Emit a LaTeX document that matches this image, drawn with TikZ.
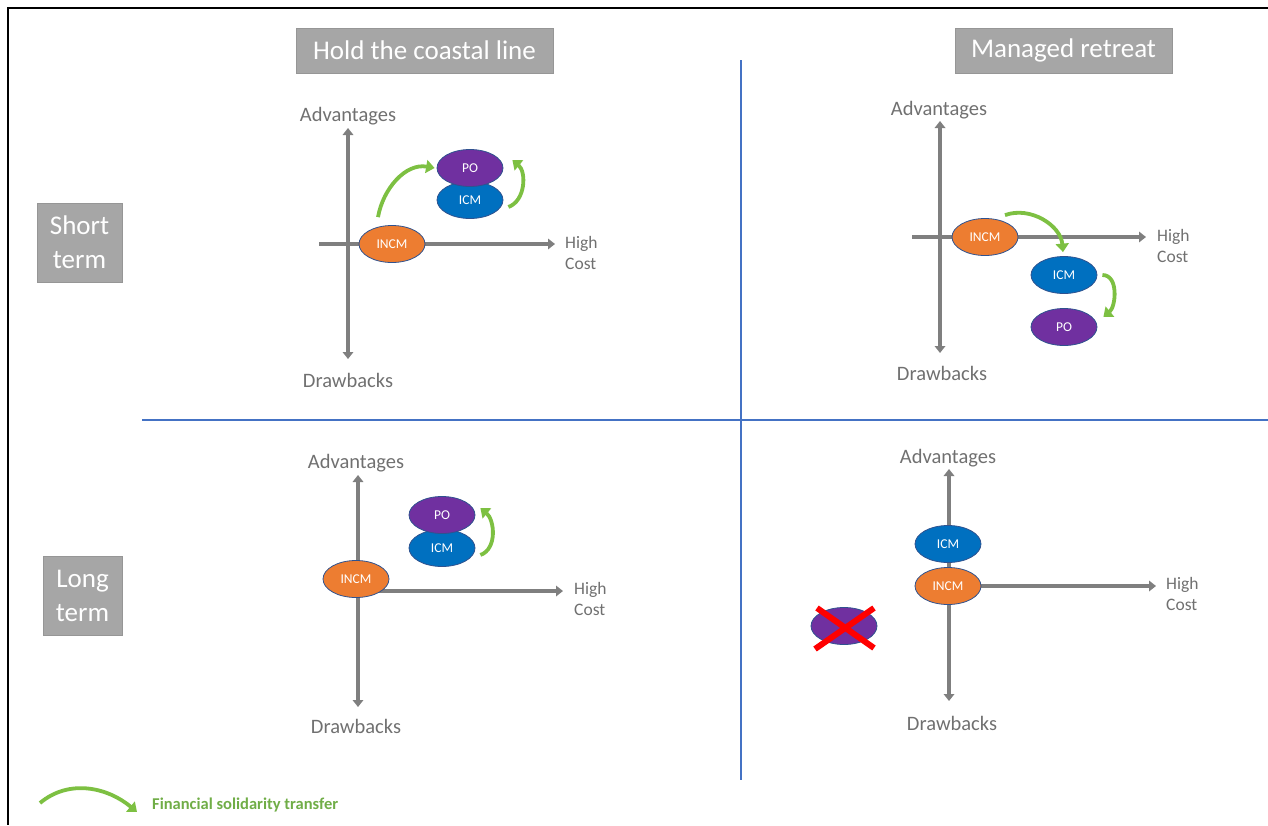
\documentclass[tikz,border=0pt]{standalone}
\usepackage{fontspec}
\setmainfont{Carlito}
\usetikzlibrary{shapes.geometric,arrows.meta}

\definecolor{boxgray}{RGB}{166,166,166}
\definecolor{boxedge}{RGB}{150,150,150}
\definecolor{axisgray}{RGB}{127,127,127}
\definecolor{labelgray}{RGB}{112,112,112}
\definecolor{divblue}{RGB}{68,114,196}
\definecolor{incmorange}{RGB}{237,125,49}
\definecolor{icmblue}{RGB}{0,112,192}
\definecolor{popurple}{RGB}{112,48,160}
\definecolor{ovaledge}{RGB}{47,82,143}
\definecolor{transfergreen}{RGB}{125,192,66}
\definecolor{legendgreen}{RGB}{112,173,71}

\tikzset{
  headbox/.style={fill=boxgray, draw=boxedge, line width=0.8pt, text=white,
    font=\fontsize{27}{34}\selectfont, inner sep=0pt, align=center},
  quadaxis/.style={draw=axisgray, line width=4.5pt, >={Triangle[width=10.5pt,length=7pt]}},
  axislabel/.style={text=labelgray, font=\fontsize{20.5}{24}\selectfont, inner sep=0pt},
  costlabel/.style={text=labelgray, font=\fontsize{17.5}{21}\selectfont, inner sep=0pt,
    align=left, anchor=west},
  oval/.style={ellipse, draw=ovaledge, line width=0.8pt, minimum width=66pt,
    minimum height=37pt, inner sep=0pt, text=white, font=\fontsize{13.5}{15}\selectfont},
  incm/.style={oval, fill=incmorange},
  icm/.style={oval, fill=icmblue},
  po/.style={oval, fill=popurple},
  transfer/.style={draw=transfergreen, line width=3.8pt, -{Triangle[width=13pt,length=8.5pt]}},
  crossout/.style={draw=red, line width=6pt},
  divider/.style={draw=divblue, line width=1.3pt},
  legendtext/.style={text=legendgreen, font=\bfseries\fontsize{16.5}{19}\selectfont,
    inner sep=0pt, anchor=west},
}

\begin{document}
\begin{tikzpicture}[x=1pt,y=1pt]
  % Canvas and frame
  \useasboundingbox (0,0) rectangle (1268,-825);
  \draw[black, line width=2pt] (1268,-8) -- (8,-8) -- (8,-825);

  % Quadrant dividers
  \coordinate (divTop) at (741,-60);
  \coordinate (divBot) at (741,-780);
  \coordinate (divLeft) at (142,-420);
  \coordinate (divRight) at (1268,-420);
  \draw[divider] (divTop) -- (divBot);
  \draw[divider] (divLeft) -- (divRight);

  % Column and row headings
  \node[headbox, minimum width=257pt, minimum height=45pt] (hold) at (424.5,-50.5) {Hold the coastal line};
  \node[headbox, minimum width=217pt, minimum height=45pt] (retreat) at (1063.5,-50.5) {Managed retreat};
  \node[headbox, minimum width=85pt, minimum height=79pt] (short) at (79.5,-242.5) {Short\\term};
  \node[headbox, minimum width=79pt, minimum height=79pt] (long) at (82.5,-595.5) {Long\\term};

  % Hold the coastal line, short term
  \coordinate (tlTop) at (348,-128);
  \coordinate (tlBot) at (348,-359);
  \coordinate (tlLeft) at (319,-244);
  \coordinate (tlRight) at (555,-244);
  \draw[quadaxis, <->] (tlTop) -- (tlBot);
  \draw[quadaxis, ->] (tlLeft) -- (tlRight);
  \node[axislabel] (tlAdv) at (348,-116) {Advantages};
  \node[axislabel] (tlDraw) at (348,-380) {Drawbacks};
  \node[costlabel] (tlCost) at (565,-253) {High\\Cost};
  \node[incm] (incmA) at (392,-244) {INCM};
  \node[icm] (icmA) at (470,-200) {ICM};
  \node[po] (poA) at (470,-168) {PO};
  \draw[transfer] ([shift={(-14,8)}]incmA.north) to[out=80, in=170] ([xshift=-2pt]poA.west);
  \draw[transfer] ([shift={(5,-7)}]icmA.east) to[out=20, in=-40] ([shift={(9,8)}]poA.east);

  % Managed retreat, short term
  \coordinate (trTop) at (940,-121);
  \coordinate (trBot) at (940,-353);
  \coordinate (trLeft) at (912,-237);
  \coordinate (trRight) at (1146,-237);
  \draw[quadaxis, <->] (trTop) -- (trBot);
  \draw[quadaxis, ->] (trLeft) -- (trRight);
  \node[axislabel] (trAdv) at (939,-110) {Advantages};
  \node[axislabel] (trDraw) at (942,-373) {Drawbacks};
  \node[costlabel] (trCost) at (1157,-246) {High\\Cost};
  \node[incm] (incmB) at (985,-237) {INCM};
  \node[icm] (icmB) at (1064,-275) {ICM};
  \node[po] (poB) at (1064,-327) {PO};
  \draw[transfer] ([shift={(20,3)}]incmB.north) to[out=20, in=95] ([shift={(-1,4)}]icmB.north);
  \draw[transfer] ([xshift=5pt]icmB.east) to[out=0, in=40] ([shift={(6,10)}]poB.east);

  % Hold the coastal line, long term
  \coordinate (blTop) at (358,-475);
  \coordinate (blBot) at (358,-707);
  \coordinate (blLeft) at (358,-591);
  \coordinate (blRight) at (563,-591);
  \draw[quadaxis, <->] (blTop) -- (blBot);
  \draw[quadaxis, ->] (blLeft) -- (blRight);
  \node[axislabel] (blAdv) at (356,-463) {Advantages};
  \node[axislabel] (blDraw) at (356,-726) {Drawbacks};
  \node[costlabel] (blCost) at (574,-599) {High\\Cost};
  \node[incm] (incmC) at (356,-579) {INCM};
  \node[icm] (icmC) at (442,-548) {ICM};
  \node[po] (poC) at (442,-515) {PO};
  \draw[transfer] ([shift={(5,-7)}]icmC.east) to[out=20, in=-40] ([shift={(5,7)}]poC.east);

  % Managed retreat, long term
  \coordinate (brTop) at (949,-469);
  \coordinate (brBot) at (949,-701);
  \coordinate (brLeft) at (949,-586);
  \coordinate (brRight) at (1156,-586);
  \draw[quadaxis, <->] (brTop) -- (brBot);
  \draw[quadaxis, ->] (brLeft) -- (brRight);
  \node[axislabel] (brAdv) at (948,-458) {Advantages};
  \node[axislabel] (brDraw) at (952,-723) {Drawbacks};
  \node[costlabel] (brCost) at (1166,-594) {High\\Cost};
  \node[icm] (icmD) at (948,-544) {ICM};
  \node[incm] (incmD) at (948,-586) {INCM};
  \node[po] (poD) at (844,-626) {};
  \draw[crossout] ([shift={(-29,-23)}]poD.center) -- ([shift={(30,18)}]poD.center);
  \draw[crossout] ([shift={(-27,18)}]poD.center) -- ([shift={(30,-22)}]poD.center);

  % Legend
  \coordinate (legStart) at (40,-803);
  \coordinate (legEnd) at (137,-812);
  \draw[transfer] (legStart) to[out=40, in=140] (legEnd);
  \node[legendtext] (legText) at (152,-805) {Financial solidarity transfer};
\end{tikzpicture}
\end{document}
